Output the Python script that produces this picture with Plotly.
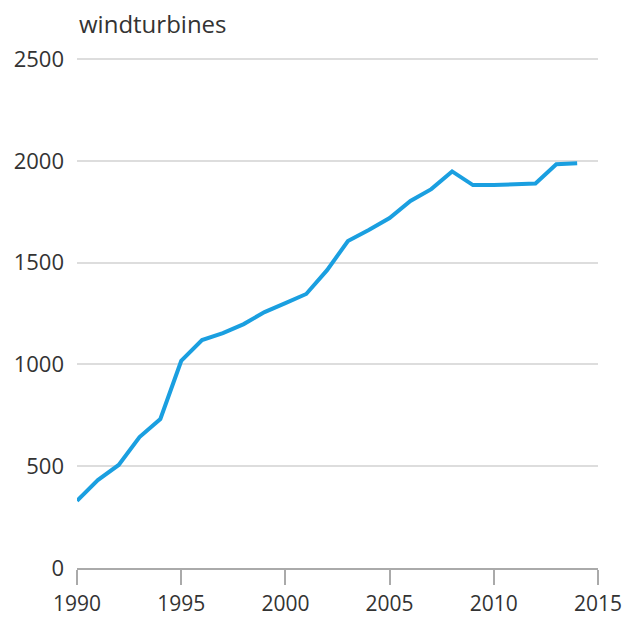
import plotly.graph_objects as go

years = list(range(1990, 2015))
turbines = [330, 432, 506, 643, 732, 1017, 1120, 1154, 1198, 1257, 1301, 1346,
            1463, 1606, 1660, 1719, 1803, 1861, 1948, 1881, 1881, 1886, 1889,
            1983, 1988]

y_ticks = [0, 500, 1000, 1500, 2000, 2500]
x_ticks = [1990, 1995, 2000, 2005, 2010, 2015]
title_text = "windturbines"

font_family = "Open Sans"

fig = go.Figure()
fig.add_trace(go.Scatter(
    x=years, y=turbines, mode="lines",
    line=dict(color="#1a9fe0", width=4),
    hoverinfo="skip", showlegend=False,
))

fig.update_layout(
    width=625, height=619,
    margin=dict(l=77, r=27, t=57, b=51, autoexpand=False),
    paper_bgcolor="white", plot_bgcolor="white",
    font=dict(family=font_family, size=22, color="#333333"),
    xaxis=dict(
        range=[1990, 2015], tickvals=x_ticks, ticktext=[str(v) for v in x_ticks],
        showgrid=False, zeroline=False, automargin=False,
        showline=True, linecolor="#aaaaaa", linewidth=2,
        ticks="outside", ticklen=15, tickwidth=2, tickcolor="#aaaaaa",
        ticklabelstandoff=1,
        tickfont=dict(size=21, color="#333333"),
        fixedrange=True,
    ),
    yaxis=dict(
        range=[0, 2510], tickvals=y_ticks, ticktext=[str(v) for v in y_ticks],
        showgrid=True, gridcolor="#dddddd", gridwidth=2,
        zeroline=False, showline=False, ticks="", automargin=False,
        ticklabelstandoff=12,
        tickfont=dict(size=22, color="#333333"),
        fixedrange=True,
    ),
    annotations=[dict(
        text=title_text, xref="paper", yref="paper",
        x=0, y=1, xanchor="left", yanchor="bottom", yshift=15,
        showarrow=False, font=dict(size=24, color="#333333", family=font_family),
    )],
)

fig.write_html(
    "out.html",
    config={"displayModeBar": False, "staticPlot": True},
    post_script="document.body.style.margin='0';document.body.style.padding='0';",
)
